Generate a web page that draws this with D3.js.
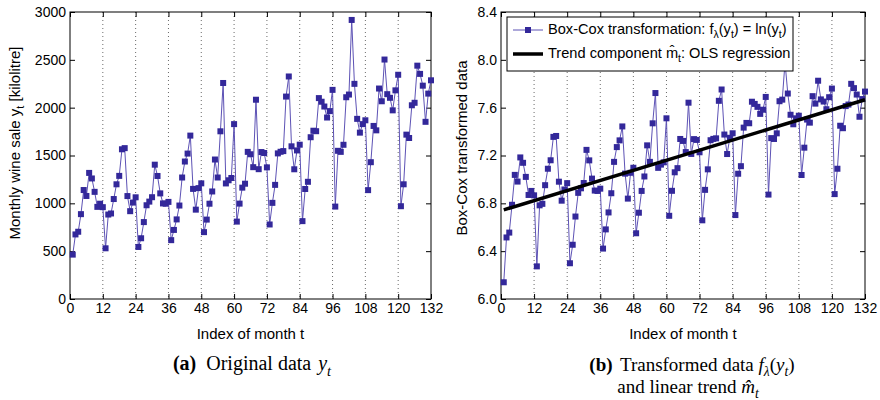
<!DOCTYPE html>
<html>
<head>
<meta charset="utf-8">
<script src="https://cdn.jsdelivr.net/npm/d3@7"></script>
<style>
  body { margin: 0; background: #fff; }
  svg { display: block; font-family: "Liberation Sans", Arial, sans-serif; }
</style>
</head>
<body>
<svg id="chart" width="880" height="400"></svg>
<script>
// monthly red wine sales (kilolitre), months t = 1..132
const sales = [
  464, 675, 703, 887, 1139, 1077, 1318, 1260, 1120, 963, 996, 960,
  530, 883, 894, 1045, 1199, 1287, 1565, 1577, 1076, 918, 1008, 1063,
  544, 635, 804, 980, 1018, 1064, 1404, 1286, 1104, 999, 996, 1015,
  615, 722, 832, 977, 1270, 1437, 1520, 1708, 1151, 934, 1159, 1209,
  699, 830, 996, 1124, 1458, 1270, 1753, 2258, 1208, 1241, 1265, 1828,
  809, 997, 1164, 1205, 1538, 1513, 1378, 2083, 1357, 1536, 1526, 1376,
  779, 1005, 1193, 1522, 1539, 1546, 2116, 2326, 1596, 1356, 1553, 1613,
  814, 1150, 1225, 1691, 1759, 1754, 2100, 2062, 2012, 1897, 1964, 2186,
  966, 1549, 1538, 1612, 2109, 2137, 2917, 2249, 1883, 1739, 1828, 1868,
  1138, 1430, 1809, 1763, 2200, 2067, 2503, 2141, 2103, 1972, 2181, 2344,
  970, 1199, 1718, 1683, 2025, 2051, 2439, 2353, 2230, 1852, 2147, 2286
];
const monthTicks = [0, 12, 24, 36, 48, 60, 72, 84, 96, 108, 120, 132];
const salesTicks = [0, 500, 1000, 1500, 2000, 2500, 3000];
const logTicks = [6.0, 6.4, 6.8, 7.2, 7.6, 8.0, 8.4];

const markColor = "#33289a";
const lineColor = "#5d52b5";

const svg = d3.select("#chart");

// zaman indeksi ve ln dönüşümü
const series = sales.map((v, i) => ({ t: i + 1, y: v, ly: Math.log(v) }));

// OLS trend of ln(y) on t
const mt = d3.mean(series, d => d.t), my = d3.mean(series, d => d.ly);
const slope = d3.sum(series, d => (d.t - mt) * (d.ly - my)) / d3.sum(series, d => (d.t - mt) ** 2);
const icpt = my - slope * mt;
const trend = [1, series.length].map(t => ({ t: t, ly: icpt + slope * t }));

// writes text parts with subscripts into a <text>
function rich(text, parts, size) {
  let shift = 0;
  parts.forEach(p => {
    const target = p.sub ? size * 0.28 : 0;
    const ts = text.append("tspan").text(p.t).attr("dy", target - shift);
    shift = target;
    if (p.sub) ts.attr("font-size", size * 0.72);
    if (p.it) ts.attr("font-style", "italic");
    if (p.b) ts.attr("font-weight", "bold");
    if (p.dx) ts.attr("dx", p.dx);
  });
  return text;
}

function panel(box, yDomain, yTicks, yFmt) {
  const x = d3.scaleLinear().domain([0, 132]).range([box.x0, box.x1]);
  const y = d3.scaleLinear().domain(yDomain).range([box.y1, box.y0]);
  const g = svg.append("g");

  // dotted vertical grid
  g.append("g").selectAll("line")
    .data(monthTicks.slice(1, -1))
    .join("line")
    .attr("x1", d => x(d)).attr("x2", d => x(d))
    .attr("y1", box.y0).attr("y2", box.y1)
    .attr("stroke", "#444").attr("stroke-width", 0.8)
    .attr("stroke-dasharray", "1,3");

  const axes = [
    [d3.axisBottom(x).tickValues(monthTicks), `translate(0,${box.y1})`, true],
    [d3.axisTop(x).tickValues(monthTicks), `translate(0,${box.y0})`, false],
    [d3.axisLeft(y).tickValues(yTicks).tickFormat(yFmt), `translate(${box.x0},0)`, true],
    [d3.axisRight(y).tickValues(yTicks), `translate(${box.x1},0)`, false]
  ];
  axes.forEach(([ax, tr, labels]) => {
    const a = g.append("g").attr("transform", tr)
      .call(ax.tickSize(-5).tickPadding(4));
    a.select(".domain").remove();
    a.selectAll("line").attr("stroke", "#000");
    a.selectAll("text").attr("font-size", 14).attr("fill", "#000")
      .attr("font-family", "Liberation Sans, Arial, sans-serif");
    if (!labels) a.selectAll("text").remove();
  });

  g.append("rect")
    .attr("x", box.x0).attr("y", box.y0)
    .attr("width", box.x1 - box.x0).attr("height", box.y1 - box.y0)
    .attr("fill", "none").attr("stroke", "#000").attr("stroke-width", 1);

  g.append("text")
    .attr("x", (box.x0 + box.x1) / 2).attr("y", 339)
    .attr("text-anchor", "middle").attr("font-size", 15)
    .text("Index of month t");

  return { x, y, g };
}

function series_(p, key) {
  const line = d3.line().x(d => p.x(d.t)).y(d => p.y(d[key]));
  p.g.append("path").datum(series)
    .attr("d", line).attr("fill", "none")
    .attr("stroke", lineColor).attr("stroke-width", 1);
  p.g.append("g").selectAll("rect")
    .data(series).join("rect")
    .attr("x", d => p.x(d.t) - 3).attr("y", d => p.y(d[key]) - 3)
    .attr("width", 6).attr("height", 6)
    .attr("fill", markColor);
}

// (a) original data
const pa = panel({ x0: 70, x1: 431, y0: 12, y1: 299 }, [0, 3000], salesTicks, d3.format("d"));
series_(pa, "y");
rich(svg.append("text")
  .attr("transform", "translate(20,143) rotate(-90)")
  .attr("text-anchor", "middle").attr("font-size", 15),
  [{ t: "Monthly wine sale y" }, { t: "t", sub: true }, { t: " [kilolitre]" }], 15);

// (b) transformed data
const pb = panel({ x0: 501, x1: 865, y0: 12, y1: 299 }, [6.0, 8.4], logTicks, d3.format(".1f"));
series_(pb, "ly");
pb.g.append("path").datum(trend)
  .attr("d", d3.line().x(d => pb.x(d.t)).y(d => pb.y(d.ly)))
  .attr("stroke", "#000").attr("stroke-width", 3.5).attr("fill", "none");
svg.append("text")
  .attr("transform", "translate(467,148) rotate(-90)")
  .attr("text-anchor", "middle").attr("font-size", 15)
  .text("Box-Cox transformed data");

// legend
const lg = svg.append("g");
lg.append("rect").attr("x", 507).attr("y", 17).attr("width", 286).attr("height", 54)
  .attr("fill", "#fff").attr("stroke", "#000").attr("stroke-width", 1);
lg.append("line").attr("x1", 513).attr("x2", 543).attr("y1", 30).attr("y2", 30)
  .attr("stroke", lineColor).attr("stroke-width", 1);
lg.append("rect").attr("x", 525).attr("y", 27).attr("width", 6).attr("height", 6).attr("fill", markColor);
lg.append("line").attr("x1", 513).attr("x2", 543).attr("y1", 54).attr("y2", 54)
  .attr("stroke", "#000").attr("stroke-width", 3.5);
rich(lg.append("text").attr("x", 548).attr("y", 34).attr("font-size", 14.6),
  [{ t: "Box-Cox transformation: f" }, { t: "λ", sub: true }, { t: "(y" }, { t: "t", sub: true },
   { t: ") = ln(y" }, { t: "t", sub: true }, { t: ")" }], 14.6);
rich(lg.append("text").attr("x", 548).attr("y", 58).attr("font-size", 14.6),
  [{ t: "Trend component m\u0302" }, { t: "t", sub: true }, { t: ": OLS regression" }], 14.6);

// captions
const serif = "Liberation Serif, Times New Roman, serif";
rich(svg.append("text").attr("x", 252).attr("y", 370).attr("text-anchor", "middle")
  .attr("font-size", 20).attr("font-family", serif),
  [{ t: "(a)", b: true }, { t: " Original data ", dx: 5 }, { t: "y", it: true, dx: 2 }, { t: "t", it: true, sub: true }], 20);
rich(svg.append("text").attr("x", 692).attr("y", 371).attr("text-anchor", "middle")
  .attr("font-size", 19).attr("font-family", serif),
  [{ t: "(b)", b: true }, { t: " Transformed data ", dx: 3 }, { t: "f", it: true }, { t: "λ", it: true, sub: true },
   { t: "(" }, { t: "y", it: true }, { t: "t", it: true, sub: true }, { t: ")" }], 19);
rich(svg.append("text").attr("x", 688).attr("y", 393).attr("text-anchor", "middle")
  .attr("font-size", 19).attr("font-family", serif),
  [{ t: "and linear trend " }, { t: "m\u0302", it: true }, { t: "t", it: true, sub: true }], 19);
</script>
</body>
</html>
